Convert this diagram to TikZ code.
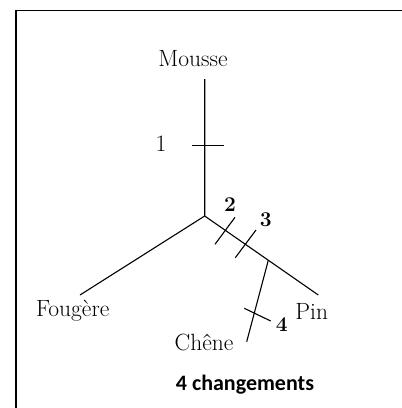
\documentclass[tikz,border=0pt]{standalone}
\usepackage{fontspec}
\newfontfamily\calib{Carlito}
\usepackage{tikz}
\usetikzlibrary{calc}

\tikzset{
    branch/.style={line width=1.1pt},
    tick/.style={line width=1.1pt},
    taxon/.style={font=\fontsize{23.5}{27}\selectfont},
    change/.style={font=\fontsize{21}{25}\selectfont\bfseries},
}

\begin{document}
\begin{tikzpicture}[x=1pt,y=-1pt]
            \useasboundingbox (0,0) rectangle (402,408);
            \draw[line width=1.6pt] (16,420) -- (16,10.5) -- (420,10.5);
            % tree
            \coordinate (root) at (204.7,216);
            \coordinate (mtop) at (204.7,79);
            \coordinate (fend) at (80,295);
            \coordinate (pend) at (318.3,295);
            \coordinate (junc) at ($(root)!0.56!(pend)$);
            \coordinate (cend) at (246.7,341.7);
            \draw[branch] (mtop) -- (root) -- (fend);
            \draw[branch] (root) -- (pend);
            \draw[branch] (junc) -- (cend);
            % changements
            \coordinate (t1a) at (191.7,145.7);
            \coordinate (t1b) at (224,145.7);
            \coordinate (t2a) at (215,244.3);
            \coordinate (t2b) at (235,217.3);
            \coordinate (t3a) at (235.3,257.7);
            \coordinate (t3b) at (256,230);
            \coordinate (t4a) at (244.3,308.3);
            \coordinate (t4b) at (270.7,321);
            \foreach \a/\b in {t1a/t1b,t2a/t2b,t3a/t3b,t4a/t4b}
                \draw[tick] (\a) -- (\b);
            \node[taxon] (mousse) at (193,59) {Mousse};
            \node[taxon] (fougere) at (72.7,311) {Fougère};
            \node[taxon] (pin) at (311.7,311) {Pin};
            \node[taxon] (chene) at (204,342.5) {Chêne};
            \node[taxon] (n1) at (161,144) {1};
            \node[change] (n2) at (230,205) {2};
            \node[change] (n3) at (265.7,220) {3};
            \node[change] (n4) at (281.7,325) {4};
            \node[font=\calib\fontsize{22}{26}\selectfont\bfseries] (total) at (245,385) {4 changements};
        \end{tikzpicture}
\end{document}
